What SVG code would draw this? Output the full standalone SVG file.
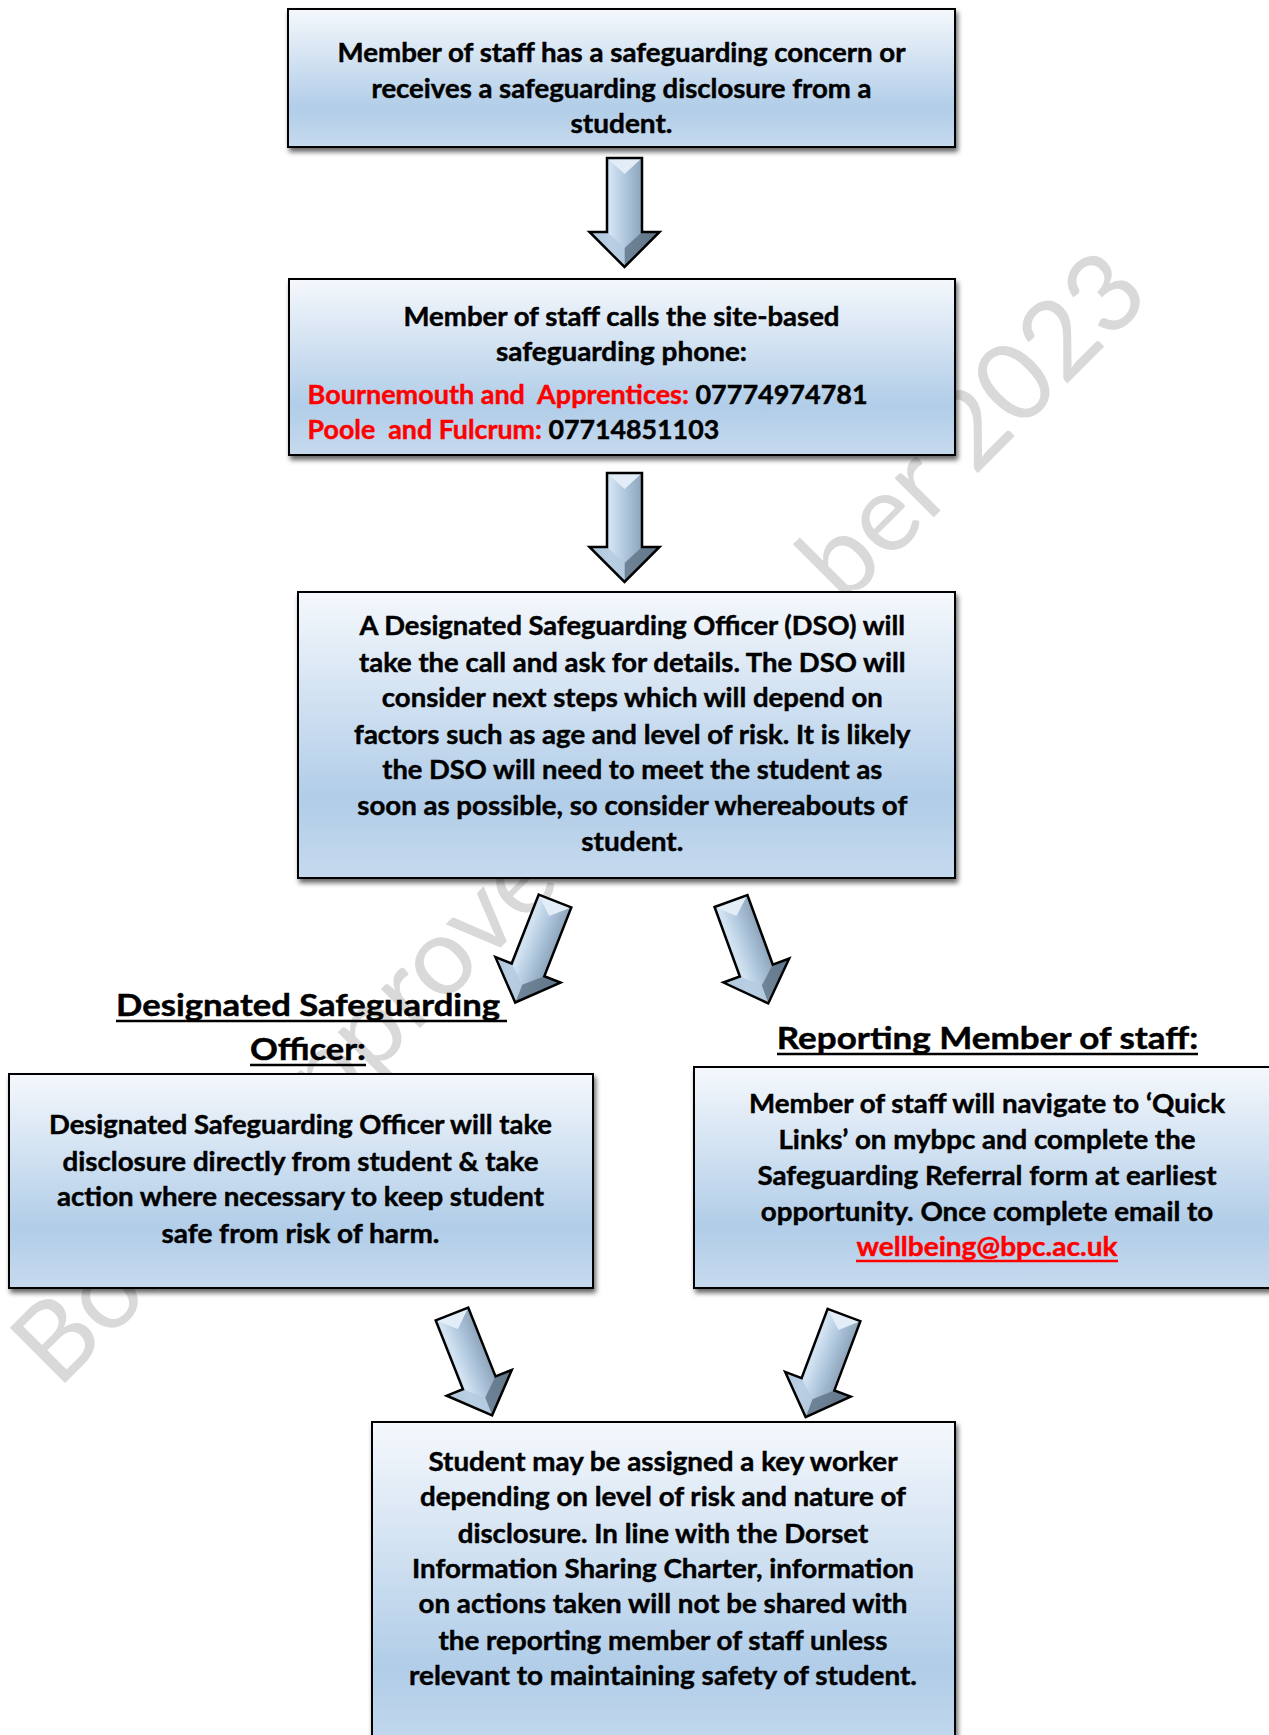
<svg xmlns="http://www.w3.org/2000/svg" width="1269" height="1735" viewBox="0 0 1269 1735">
<defs>
<style>
.t{font-family:"Lato","Liberation Sans",sans-serif;font-weight:bold;font-size:27px;fill:#000;stroke:#000;stroke-width:0.45;text-anchor:middle}
.l{text-anchor:start}
.h{font-size:31px}
.red{fill:#ff0000;stroke:#ff0000}
.box{fill:url(#boxg);stroke:#000;stroke-width:2;filter:url(#sh)}
.wm{font-family:"Lato","Liberation Sans",sans-serif;font-weight:normal;font-size:109px;fill:#d9d9d9}
.ul{stroke:#000;stroke-width:2.5}
</style>
<linearGradient id="boxg" x1="0" y1="0" x2="0" y2="1">
<stop offset="0" stop-color="#f5f8fc"/>
<stop offset="0.72" stop-color="#b1cde8"/>
<stop offset="1" stop-color="#c6daee"/>
</linearGradient>
<linearGradient id="arg" x1="0" y1="0" x2="1" y2="0">
<stop offset="0" stop-color="#9db6cc"/>
<stop offset="0.3" stop-color="#d2e3f2"/>
<stop offset="0.55" stop-color="#a9c1d8"/>
<stop offset="1" stop-color="#6a7f93"/>
</linearGradient>
<filter id="sh" x="-5%" y="-5%" width="110%" height="115%">
<feDropShadow dx="2" dy="4" stdDeviation="2.5" flood-color="#000" flood-opacity="0.6"/>
</filter>
<g id="arrow">
<path d="M-17.5,0 L17.5,0 L17.5,74 L35,74 L0,109 L-35,74 L-17.5,74 Z" fill="url(#arg)"/>
<path d="M-17.5,0 L17.5,0 L0,16 Z" fill="#e2edf7"/>
<path d="M0,109 L35,74 L17.5,74 L0,90 Z" fill="#5f7386" opacity="0.8"/>
<path d="M0,109 L-35,74 L-17.5,74 L0,90 Z" fill="#b3c9de" opacity="0.8"/>
<path d="M-17.5,0 L17.5,0 L17.5,74 L35,74 L0,109 L-35,74 L-17.5,74 Z" fill="none" stroke="#000" stroke-width="2.5" stroke-linejoin="miter"/>
</g>
</defs>
<rect width="1269" height="1735" fill="#fff"/>

<g id="watermark">
<text class="wm" x="58" y="1390" transform="rotate(-45 58 1390)">Board Approved</text>
<text class="wm" x="1168" y="1392" transform="rotate(-45 58 1390)">ber 2023</text>
</g>

<g id="connectors">
<use href="#arrow" transform="translate(624.5,158)"/>
<use href="#arrow" transform="translate(624.5,473)"/>
<use href="#arrow" transform="translate(555,901) rotate(21.4)"/>
<use href="#arrow" transform="translate(731,901) rotate(-20)"/>
<use href="#arrow" transform="translate(452,1314) rotate(-21.6)"/>
<use href="#arrow" transform="translate(844,1315) rotate(20.6)"/>
</g>

<g id="node-concern">
<rect class="box" x="288" y="9" width="667" height="138"/>
<text class="t" x="621.5" y="62" textLength="568" lengthAdjust="spacingAndGlyphs">Member of staff has a safeguarding concern or</text>
<text class="t" x="621.5" y="97.5" textLength="500" lengthAdjust="spacingAndGlyphs">receives a safeguarding disclosure from a</text>
<text class="t" x="621.5" y="133" textLength="102" lengthAdjust="spacingAndGlyphs">student.</text>
</g>

<g id="node-phone">
<rect class="box" x="289" y="279" width="666" height="176"/>
<text class="t" x="621.5" y="325.5" textLength="436" lengthAdjust="spacingAndGlyphs">Member of staff calls the site-based</text>
<text class="t" x="621.5" y="361" textLength="251" lengthAdjust="spacingAndGlyphs">safeguarding phone:</text>
<text class="t l" x="307.6" y="404" textLength="560" lengthAdjust="spacingAndGlyphs" xml:space="preserve"><tspan class="red">Bournemouth and  Apprentices:</tspan> 07774974781</text>
<text class="t l" x="307.6" y="439" textLength="411.6" lengthAdjust="spacingAndGlyphs" xml:space="preserve"><tspan class="red">Poole  and Fulcrum:</tspan> 07714851103</text>
</g>

<g id="node-dso-call">
<rect class="box" x="298" y="592" width="657" height="286"/>
<text class="t" x="632.3" y="635" textLength="545.5" lengthAdjust="spacingAndGlyphs">A Designated Safeguarding Officer (DSO) will</text>
<text class="t" x="632.3" y="671.7" textLength="546.6" lengthAdjust="spacingAndGlyphs">take the call and ask for details. The DSO will</text>
<text class="t" x="632.3" y="707" textLength="501" lengthAdjust="spacingAndGlyphs">consider next steps which will depend on</text>
<text class="t" x="632.3" y="743.6" textLength="556.5" lengthAdjust="spacingAndGlyphs">factors such as age and level of risk. It is likely</text>
<text class="t" x="632.3" y="779" textLength="500" lengthAdjust="spacingAndGlyphs">the DSO will need to meet the student as</text>
<text class="t" x="632.3" y="814.5" textLength="550" lengthAdjust="spacingAndGlyphs">soon as possible, so consider whereabouts of</text>
<text class="t" x="632.3" y="851" textLength="102" lengthAdjust="spacingAndGlyphs">student.</text>
</g>

<g id="node-dso">
<text class="t h" x="308" y="1016" textLength="384" lengthAdjust="spacingAndGlyphs">Designated Safeguarding</text>
<line class="ul" x1="116" y1="1021" x2="507" y2="1021"/>
<text class="t h" x="308" y="1060" textLength="116" lengthAdjust="spacingAndGlyphs">Officer:</text>
<line class="ul" x1="250" y1="1065" x2="366" y2="1065"/>
<rect class="box" x="9" y="1074" width="584" height="214"/>
<text class="t" x="300.5" y="1134" textLength="503" lengthAdjust="spacingAndGlyphs">Designated Safeguarding Officer will take</text>
<text class="t" x="300.5" y="1170.7" textLength="476" lengthAdjust="spacingAndGlyphs">disclosure directly from student &amp; take</text>
<text class="t" x="300.5" y="1206" textLength="487" lengthAdjust="spacingAndGlyphs">action where necessary to keep student</text>
<text class="t" x="300.5" y="1242.6" textLength="278" lengthAdjust="spacingAndGlyphs">safe from risk of harm.</text>
</g>

<g id="node-reporting">
<text class="t h" x="987.5" y="1049" textLength="421.5" lengthAdjust="spacingAndGlyphs">Reporting Member of staff:</text>
<line class="ul" x1="777" y1="1054" x2="1198" y2="1054"/>
<rect class="box" x="694" y="1067" width="620" height="221"/>
<text class="t" x="987" y="1113" textLength="476" lengthAdjust="spacingAndGlyphs">Member of staff will navigate to ‘Quick</text>
<text class="t" x="987" y="1148.6" textLength="417" lengthAdjust="spacingAndGlyphs">Links’ on mybpc and complete the</text>
<text class="t" x="987" y="1185" textLength="459" lengthAdjust="spacingAndGlyphs">Safeguarding Referral form at earliest</text>
<text class="t" x="987" y="1220.5" textLength="452.5" lengthAdjust="spacingAndGlyphs">opportunity. Once complete email to</text>
<text class="t red" x="987" y="1256" textLength="261" lengthAdjust="spacingAndGlyphs">wellbeing@bpc.ac.uk</text>
<line x1="856" y1="1261" x2="1118" y2="1261" stroke="#ff0000" stroke-width="2.5"/>
</g>

<g id="node-keyworker">
<rect class="box" x="372" y="1422" width="583" height="340"/>
<text class="t" x="663" y="1470.6" textLength="469" lengthAdjust="spacingAndGlyphs">Student may be assigned a key worker</text>
<text class="t" x="663" y="1506" textLength="486" lengthAdjust="spacingAndGlyphs">depending on level of risk and nature of</text>
<text class="t" x="663" y="1542.5" textLength="410.5" lengthAdjust="spacingAndGlyphs">disclosure. In line with the Dorset</text>
<text class="t" x="663" y="1578" textLength="502" lengthAdjust="spacingAndGlyphs">Information Sharing Charter, information</text>
<text class="t" x="663" y="1613.4" textLength="489" lengthAdjust="spacingAndGlyphs">on actions taken will not be shared with</text>
<text class="t" x="663" y="1649.8" textLength="449" lengthAdjust="spacingAndGlyphs">the reporting member of staff unless</text>
<text class="t" x="663" y="1685.2" textLength="508" lengthAdjust="spacingAndGlyphs">relevant to maintaining safety of student.</text>
</g>
</svg>
